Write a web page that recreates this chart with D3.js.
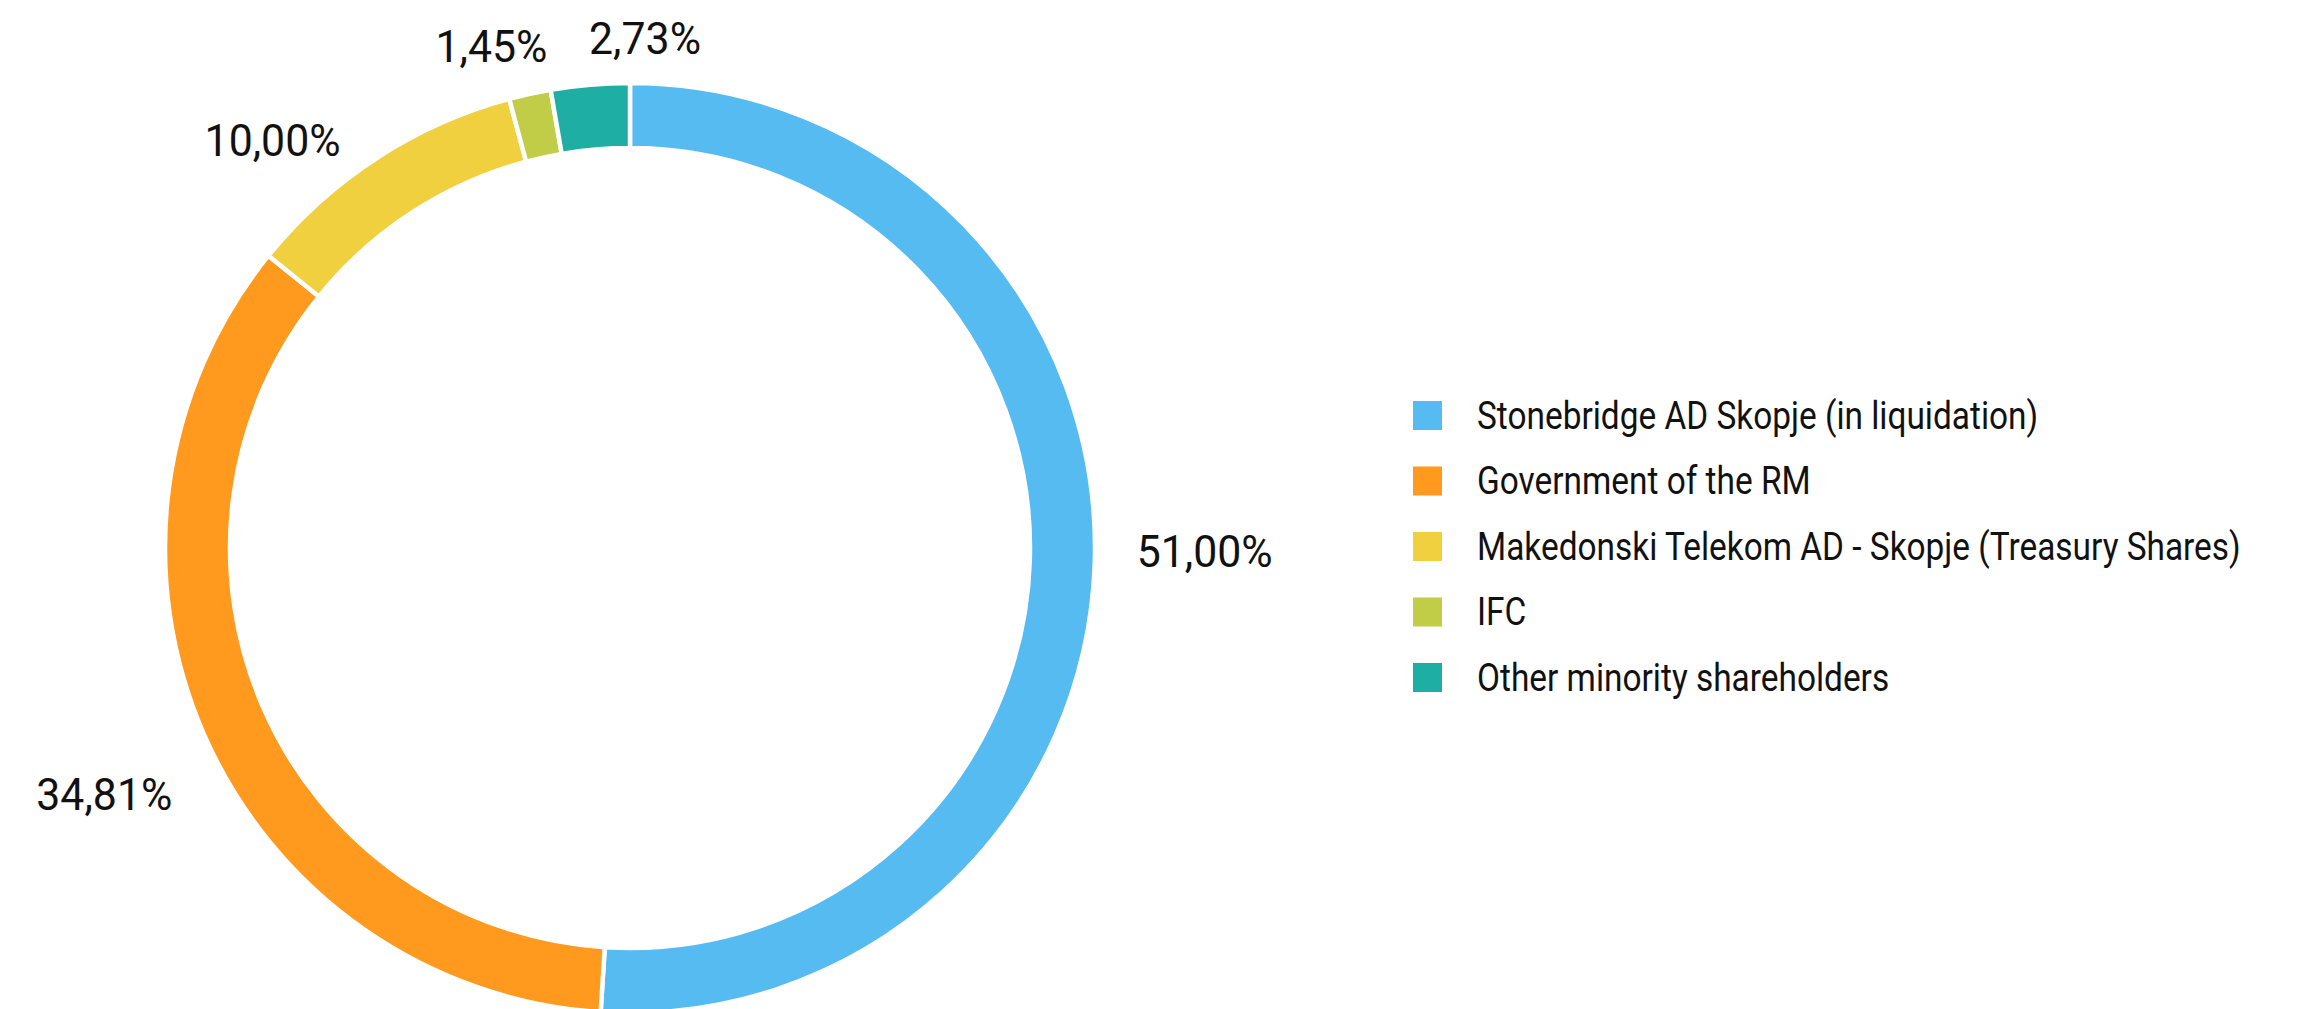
<!DOCTYPE html>
<html>
<head>
<meta charset="utf-8">
<script src="https://cdn.jsdelivr.net/npm/d3@7/dist/d3.min.js"></script>
<style>
  html, body { margin: 0; padding: 0; background: #ffffff; }
  svg { display: block; }
  text { font-family: Roboto, "Liberation Sans", sans-serif; fill: #111; }
</style>
</head>
<body>
<svg id="chart" width="2310" height="1009"></svg>
<script>
// ---- data ----
const categories = [
  "Stonebridge AD Skopje (in liquidation)",
  "Government of the RM",
  "Makedonski Telekom AD - Skopje (Treasury Shares)",
  "IFC",
  "Other minority shareholders"
];
const shares = [51.00, 34.81, 10.00, 1.45, 2.73];
const valueLabels = ["51,00%", "34,81%", "10,00%", "1,45%", "2,73%"];
const colors = ["#56BBF1", "#FF9A1F", "#F1D040", "#C1CD46", "#1EAEA4"];

// ---- layout (not data) ----
const W = 2310, H = 1009;
const cx = 630, cy = 548;
const outerR = 465, innerR = 400;
const labelR = 560;
const labelNudge = [[15, -14], [-13, 21], [-52, 62], [-18, 45], [63, 48]];
const valueLabelTargetWidth = 136;   // width of "51,00%" in the reference
const legendTargetWidth = 764;       // width of the longest legend entry in the reference

const svg = d3.select("#chart");
const g = svg.append("g").attr("transform", `translate(${cx},${cy})`);

const pie = d3.pie().sort(null).value(d => d);
const arcs = pie(shares);
const arc = d3.arc().innerRadius(innerR).outerRadius(outerR);
const labelArc = d3.arc().innerRadius(labelR).outerRadius(labelR);

g.selectAll("path.slice")
  .data(arcs)
  .join("path")
  .attr("class", "slice")
  .attr("d", arc)
  .attr("fill", (d, i) => colors[i])
  .attr("stroke", "#ffffff")
  .attr("stroke-width", 4.5)
  .attr("stroke-linejoin", "miter");

const vals = g.selectAll("text.val")
  .data(arcs)
  .join("text")
  .attr("class", "val")
  .attr("x", 0).attr("y", 0)
  .attr("dy", "0.35em")
  .attr("text-anchor", "middle")
  .attr("font-size", 45)
  .text((d, i) => valueLabels[i]);
const sv = valueLabelTargetWidth / vals.nodes()[0].getComputedTextLength();
vals.attr("transform", (d, i) => {
  const c = labelArc.centroid(d);
  return `translate(${c[0] + labelNudge[i][0]},${c[1] + labelNudge[i][1]}) scale(${sv},1)`;
});

// ---- legend ----
const legendX = 1413, legendY0 = 415.5, legendStep = 65.5, sw = 29;
const y = d3.scalePoint().domain(categories).range([legendY0, legendY0 + legendStep * (categories.length - 1)]);
const leg = svg.append("g");
const items = leg.selectAll("g.item").data(categories).join("g")
  .attr("class", "item")
  .attr("transform", d => `translate(${legendX},${y(d)})`);
items.append("rect")
  .attr("x", 0).attr("y", -sw / 2)
  .attr("width", sw).attr("height", sw)
  .attr("fill", (d, i) => colors[i]);
const lt = items.append("text")
  .attr("x", 0).attr("y", 0)
  .attr("dy", "0.35em")
  .attr("font-size", 38)
  .text(d => d);
const maxLen = d3.max(lt.nodes(), n => n.getComputedTextLength());
const sl = legendTargetWidth / maxLen;
lt.attr("transform", `translate(64,0) scale(${sl},1)`);
</script>
</body>
</html>
